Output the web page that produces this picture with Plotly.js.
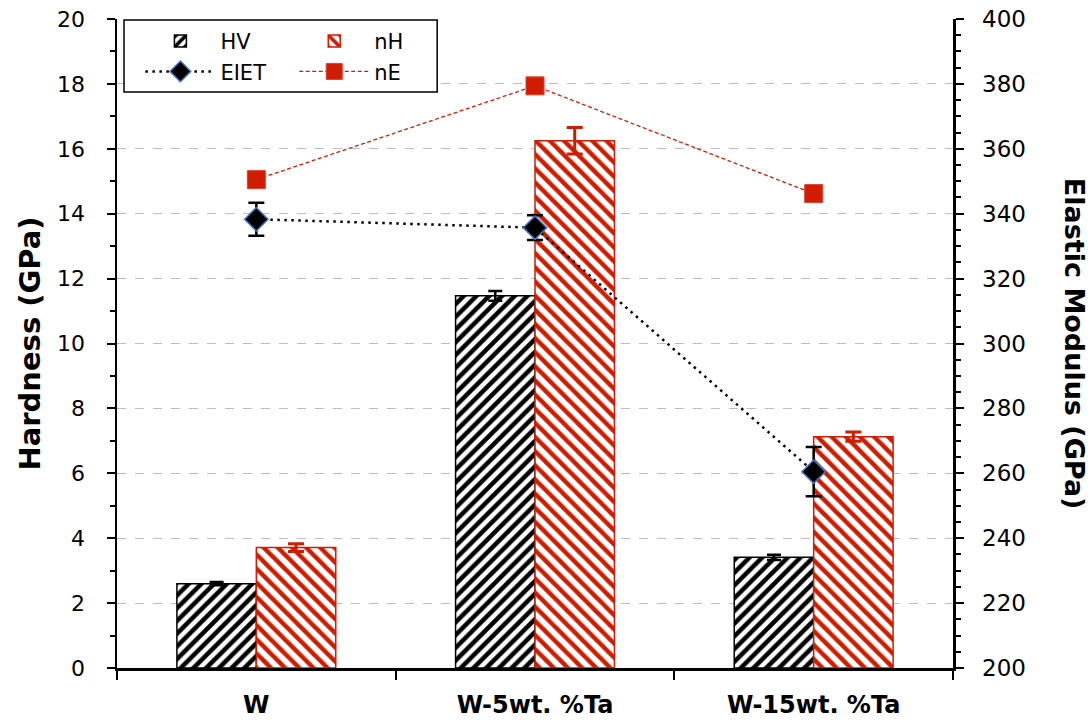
<!DOCTYPE html>
<html>
<head>
<meta charset="utf-8">
<script src="https://cdn.plot.ly/plotly-3.0.1.min.js"></script>
<style>html,body{margin:0;padding:0;background:#fff;}#chart{width:1091px;height:728px;}</style>
</head>
<body>
<div id="chart"></div>
<script>
// ---- data ----
var categories = ['W', 'W-5wt. %Ta', 'W-15wt. %Ta'];
var hv = [2.6, 11.47, 3.41];
var hvErr = [0.05, 0.15, 0.08];
var nh = [3.71, 16.25, 7.13];
var nhErr = [0.12, 0.41, 0.14];
var eiet = [338.3, 335.7, 260.5];
var eietErr = [5.1, 3.8, 7.6];
var ne = [350.5, 379.4, 346.2];
var leftTicks = [0, 2, 4, 6, 8, 10, 12, 14, 16, 18, 20];
var rightTicks = [200, 220, 240, 260, 280, 300, 320, 340, 360, 380, 400];

var RED = '#d01c00';
var wideFont = '"DejaVu Sans", "Liberation Sans", Arial, sans-serif';

var traces = [
  {
    type: 'bar', name: 'HV', x: categories, y: hv, yaxis: 'y',
    marker: {color: 'white', line: {color: '#000', width: 1.5},
      pattern: {shape: '/', fgcolor: '#000', bgcolor: '#fff', size: 9, solidity: 0.5}},
    error_y: {type: 'data', array: hvErr, visible: true, color: '#000', thickness: 2.5, width: 7},
    legend: 'legend'
  },
  {
    type: 'bar', name: 'nH', x: categories, y: nh, yaxis: 'y',
    marker: {color: 'white', line: {color: RED, width: 1.5},
      pattern: {shape: '\\', fgcolor: RED, bgcolor: '#fff', size: 10, solidity: 0.45}},
    error_y: {type: 'data', array: nhErr, visible: true, color: RED, thickness: 3, width: 8},
    legend: 'legend2'
  },
  {
    type: 'scatter', mode: 'lines+markers', name: 'EIET', x: categories, y: eiet, yaxis: 'y2',
    line: {color: '#000', width: 2.5, dash: '2.5px,4.5px'},
    marker: {symbol: 'diamond', size: 18, color: '#000', line: {color: '#4472c4', width: 1.5}},
    error_y: {type: 'data', array: eietErr, visible: true, color: '#000', thickness: 2.5, width: 8},
    legend: 'legend'
  },
  {
    type: 'scatter', mode: 'lines+markers', name: 'nE', x: categories, y: ne, yaxis: 'y2',
    line: {color: RED, width: 1.3, dash: '4px,2.5px'},
    marker: {symbol: 'square', size: 18, color: RED, line: {color: '#e04030', width: 1}},
    legend: 'legend2'
  }
];

var layout = {
  width: 1091, height: 728,
  margin: {l: 117, r: 138, t: 19, b: 60},
  paper_bgcolor: '#fff', plot_bgcolor: '#fff',
  barmode: 'group', bargap: 0.43, bargroupgap: 0,
  showlegend: true,
  xaxis: {
    type: 'category', tickson: 'boundaries', ticks: 'outside', ticklen: 9, tickwidth: 2, tickcolor: '#000',
    showline: true, linecolor: '#000', linewidth: 2.5, showgrid: false, zeroline: false,
    tickfont: {family: wideFont, size: 24, color: '#000', weight: 'bold'},
    ticklabelstandoff: 14
  },
  yaxis: {
    range: [0, 20], tickvals: leftTicks, ticks: 'outside', ticklen: 8, tickwidth: 2, tickcolor: '#000',
    showline: true, linecolor: '#000', linewidth: 2.5, zeroline: false,
    showgrid: true, gridcolor: '#bdbdbd', griddash: 'dash', gridwidth: 1,
    minor: {dtick: 1, ticks: 'outside', ticklen: 5, tickwidth: 2, tickcolor: '#000', showgrid: false},
    tickfont: {family: wideFont, size: 22, color: '#000'},
    ticklabelstandoff: 17,
    title: {text: 'Hardness (GPa)', font: {family: wideFont, size: 29, color: '#000', weight: 'bold'}, standoff: 8}
  },
  yaxis2: {
    overlaying: 'y', side: 'right', range: [200, 400], tickvals: rightTicks,
    ticks: 'outside', ticklen: 8, tickwidth: 2, tickcolor: '#000',
    showline: true, linecolor: '#000', linewidth: 2.5, zeroline: false, showgrid: false,
    minor: {dtick: 5, ticks: 'outside', ticklen: 5, tickwidth: 2, tickcolor: '#000', showgrid: false},
    tickfont: {family: wideFont, size: 23, color: '#000'},
    ticklabelstandoff: 14
  },
  legend: {
    x: 0.028, y: 0.997, xanchor: 'left', yanchor: 'top', orientation: 'v',
    bgcolor: 'rgba(0,0,0,0)', borderwidth: 0, itemwidth: 70, tracegroupgap: 0,
    font: {family: wideFont, size: 21, color: '#000'}
  },
  legend2: {
    x: 0.212, y: 0.997, xanchor: 'left', yanchor: 'top', orientation: 'v',
    bgcolor: 'rgba(0,0,0,0)', borderwidth: 0, itemwidth: 70, tracegroupgap: 0,
    font: {family: wideFont, size: 21, color: '#000'}
  },
  shapes: [
    {type: 'rect', xref: 'paper', yref: 'paper', x0: 0.0084, x1: 0.383, y0: 0.8875, y1: 0.9985,
     line: {color: '#000', width: 1.5}, fillcolor: '#fff', layer: 'above'}
  ],
  annotations: [
    {text: 'Elastic Modulus (GPa)', xref: 'paper', yref: 'paper', x: 1.1455, y: 0.5, showarrow: false,
     textangle: 90, font: {family: wideFont, size: 27, color: '#000', weight: 'bold'}, xanchor: 'center', yanchor: 'middle'}
  ]
};

Plotly.newPlot('chart', traces, layout, {displayModeBar: false, staticPlot: true});
</script>
</body>
</html>
